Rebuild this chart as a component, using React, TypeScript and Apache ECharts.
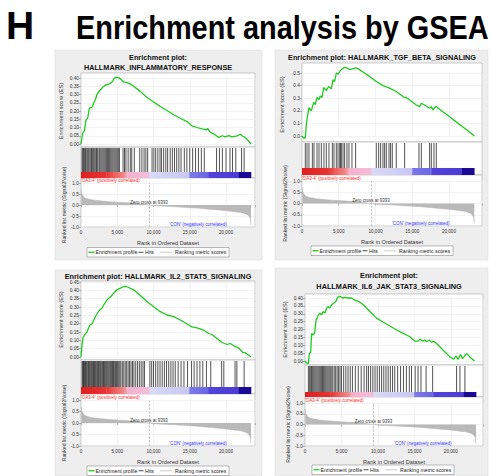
import React, { useEffect, useRef } from 'react';
import * as echarts from 'echarts';

const FONT = '"Liberation Sans", Arial, Helvetica, sans-serif';

// ---------- shared ranked list ----------
const ZERO_CROSS = 9393;
const metricRanks = [0, 50, 150, 300, 600, 1000, 1500, 2000, 3000, 4000, 5000, 6000, 7000, 8000, 9000, 9393, 10000, 11000, 12000, 13000, 14000, 15000, 16000, 17000, 18000, 19000, 20000, 21000, 22000, 22500, 23000, 23200, 23350, 23420, 23450];
const metricValues = [0.72, 0.6, 0.5, 0.4, 0.31, 0.27, 0.24, 0.21, 0.18, 0.15, 0.13, 0.11, 0.09, 0.06, 0.02, 0, -0.03, -0.05, -0.06, -0.08, -0.1, -0.12, -0.14, -0.17, -0.2, -0.23, -0.26, -0.3, -0.34, -0.38, -0.45, -0.52, -0.62, -0.8, -0.9];

const colorStopRanks = [0, 3500, 4500, 6000, 6400, 9400, 9500, 14900, 15000, 17500, 17600, 21700, 21750, 23450];
const colorStopColors = ['#e01e1e', '#e83434', '#ee5a5a', '#f08c8c', '#f5b0cc', '#f4bedb', '#d9d9f7', '#c9c6f3', '#7c7ae8', '#6a66e4', '#5244da', '#4a3cd4', '#1c0896', '#1c0896'];

const POS_LABEL = "'OA3-4' (positively correlated)";
const NEG_LABEL = "'CON' (negatively correlated)";
const ZERO_LABEL = 'Zero cross at 9393';

// ---------- panel 1: inflammatory response ----------
const title1 = ['Enrichment plot:', 'HALLMARK_INFLAMMATORY_RESPONSE'];
const es1Ranks = [0, 230, 460, 690, 920, 1150, 1380, 1600, 1750, 1980, 2200, 2570, 3030, 3500, 3800, 4140, 4370, 4600, 5060, 5420, 5900, 6250, 6710, 7260, 8180, 9100, 10020, 10940, 11860, 12780, 13700, 14620, 15310, 16000, 16690, 17290, 17470, 17840, 18530, 18990, 19450, 19910, 20370, 20830, 21520, 21980, 22210, 22670, 23450];
const es1Values = [0, 0.065, 0.08, 0.146, 0.156, 0.217, 0.22, 0.227, 0.248, 0.268, 0.3, 0.323, 0.345, 0.36, 0.363, 0.37, 0.38, 0.4, 0.404, 0.396, 0.376, 0.374, 0.366, 0.35, 0.319, 0.282, 0.254, 0.227, 0.203, 0.177, 0.156, 0.136, 0.11, 0.1, 0.091, 0.085, 0.095, 0.071, 0.055, 0.04, 0.05, 0.043, 0.051, 0.043, 0.049, 0.059, 0.05, 0.039, 0];
const hits1 = [150, 260, 380, 450, 600, 700, 850, 980, 1100, 1250, 1400, 1480, 1620, 1750, 1900, 2050, 2150, 2300, 2480, 2600, 2750, 2900, 3050, 3200, 3350, 3500, 3650, 3800, 3950, 4100, 4250, 4400, 4550, 4700, 4850, 5000, 5150, 5300, 5800, 6000, 6200, 6500, 6800, 7000, 7350, 8100, 8400, 8700, 8950, 9200, 9800, 10050, 10300, 10600, 10900, 11100, 11400, 11700, 11950, 12300, 12600, 12900, 13200, 13500, 13800, 14250, 14600, 15000, 15400, 15800, 16200, 16600, 17000, 18700, 19100, 19500, 20000, 20550, 20900, 21350, 22150, 22500];

// ---------- panel 2: TGF beta ----------
const title2 = ['Enrichment plot: HALLMARK_TGF_BETA_SIGNALING'];
const es2Ranks = [0, 230, 450, 590, 700, 950, 1270, 1590, 1810, 2040, 2310, 2490, 2720, 2950, 3310, 3630, 3990, 4220, 4450, 4670, 4900, 5220, 5490, 5800, 6120, 6490, 6850, 7300, 7620, 8300, 9210, 10110, 11020, 11930, 12830, 13740, 14200, 14650, 15560, 16010, 16240, 16690, 17370, 17600, 17820, 18050, 18280, 19180, 20090, 20990, 21900, 22810, 23450];
const es2Values = [0, -0.016, -0.016, 0.086, 0.14, 0.225, 0.2, 0.267, 0.25, 0.307, 0.29, 0.318, 0.305, 0.385, 0.36, 0.393, 0.374, 0.446, 0.433, 0.5, 0.49, 0.519, 0.535, 0.545, 0.54, 0.527, 0.532, 0.54, 0.535, 0.508, 0.473, 0.433, 0.4, 0.38, 0.353, 0.313, 0.305, 0.286, 0.246, 0.233, 0.26, 0.246, 0.22, 0.233, 0.206, 0.225, 0.233, 0.193, 0.152, 0.112, 0.072, 0.032, 0];
const hits2 = [450, 680, 950, 1410, 1630, 2040, 2310, 2630, 2990, 3310, 3670, 4130, 4350, 4670, 4900, 5130, 5260, 5350, 5580, 5800, 6120, 6390, 6800, 7300, 10110, 10430, 10700, 11020, 11250, 11470, 11840, 12060, 12290, 12830, 13970, 15920, 16240, 17370, 17600, 17960, 18280];

// ---------- panel 3: IL2 STAT5 ----------
const title3 = ['Enrichment plot: HALLMARK_IL2_STAT5_SIGNALING'];
const es3Ranks = [0, 140, 280, 460, 830, 1200, 1520, 1750, 2110, 2570, 2900, 3130, 3490, 3820, 4140, 4510, 4970, 5430, 5890, 6250, 6570, 7260, 8180, 9100, 10020, 10940, 11860, 12780, 13700, 14620, 15310, 16000, 16920, 17610, 18070, 18760, 19450, 20140, 20600, 21060, 21750, 22350, 22670, 23450];
const es3Values = [0, 0.07, 0.115, 0.131, 0.151, 0.19, 0.2, 0.22, 0.252, 0.282, 0.292, 0.312, 0.337, 0.353, 0.363, 0.383, 0.403, 0.413, 0.423, 0.423, 0.417, 0.403, 0.369, 0.333, 0.302, 0.272, 0.252, 0.242, 0.222, 0.198, 0.181, 0.175, 0.161, 0.141, 0.135, 0.111, 0.087, 0.075, 0.081, 0.067, 0.054, 0.026, 0.026, 0];
const hits3 = [150, 250, 350, 420, 520, 600, 720, 820, 950, 1050, 1150, 1280, 1400, 1500, 1620, 1720, 1850, 1950, 2050, 2180, 2300, 2400, 2520, 2650, 2750, 2880, 3000, 3100, 3230, 3350, 3480, 3600, 3720, 3850, 3980, 4100, 4230, 4350, 4480, 4600, 4750, 4900, 5050, 5200, 5350, 5500, 5700, 5900, 6100, 6300, 6500, 6700, 6900, 7100, 7300, 7550, 7800, 8050, 8300, 8550, 8750, 9500, 9750, 10000, 10300, 10600, 10900, 11200, 11500, 11800, 12100, 12400, 12700, 13000, 13400, 13800, 14200, 14700, 15250, 15600, 16000, 16400, 16800, 17300, 17900, 19400, 19700, 21250, 21500, 22500];

// ---------- panel 4: IL6 JAK STAT3 ----------
const title4 = ['Enrichment plot:', 'HALLMARK_IL6_JAK_STAT3_SIGNALING'];
const es4Ranks = [0, 230, 460, 590, 780, 910, 1140, 1330, 1510, 1650, 1830, 2050, 2280, 2510, 2740, 2970, 3190, 3420, 3650, 3970, 4240, 4470, 4790, 5160, 5480, 5940, 6390, 6710, 7310, 7990, 8900, 9820, 10730, 11640, 12560, 13470, 13930, 14380, 15070, 15520, 15750, 16110, 16440, 16660, 17030, 17350, 17580, 18040, 18950, 19860, 20410, 20680, 21000, 21320, 21590, 22150, 22600, 23240];
const es4Values = [0, -0.013, -0.017, 0.047, 0.058, 0.175, 0.165, 0.18, 0.26, 0.27, 0.293, 0.304, 0.293, 0.314, 0.304, 0.336, 0.347, 0.336, 0.357, 0.368, 0.379, 0.404, 0.411, 0.4, 0.404, 0.4, 0.4, 0.389, 0.379, 0.357, 0.314, 0.272, 0.246, 0.222, 0.197, 0.175, 0.165, 0.154, 0.126, 0.126, 0.139, 0.126, 0.133, 0.122, 0.133, 0.118, 0.126, 0.111, 0.068, 0.026, 0.011, 0.032, 0.011, 0.041, 0.015, 0.047, 0.026, 0];
const hits4 = [460, 600, 780, 900, 1050, 1200, 1350, 1500, 1650, 1800, 1950, 2100, 2250, 2400, 2550, 2700, 2850, 3000, 3150, 3300, 3450, 3600, 3800, 4000, 4200, 4400, 4600, 4800, 5000, 5300, 5600, 5900, 6200, 6500, 6900, 7300, 7700, 8100, 8450, 8700, 9000, 9300, 9600, 9900, 10200, 10500, 10800, 11100, 11400, 11700, 12000, 12300, 12700, 13100, 13500, 13900, 14300, 14600, 15100, 15500, 15900, 16600, 17500, 20780, 21240, 21920];

type Layout = {
  bg: number[]; titleX: number; titleYs: number[]; left: number; width: number; xMax: number;
  esFrame: number[]; esTopPx: number; esZeroPx: number; esMax: number; esInterval: number; esDigits: number;
  hitsTop: number; cbTop: number; cbBottom: number; m1: number; mm1: number; legendX: number; legendY: number;
};

const panels: { title: string[]; esR: number[]; esV: number[]; hits: number[]; L: Layout }[] = [
  {
    title: title1, esR: es1Ranks, esV: es1Values, hits: hits1,
    L: { bg: [55, 50, 207, 210], titleX: 158, titleYs: [57, 67], left: 81, width: 174, xMax: 24000,
      esFrame: [73, 147], esTopPx: 78, esZeroPx: 144, esMax: 0.4, esInterval: 0.05, esDigits: 2,
      hitsTop: 147, cbTop: 172, cbBottom: 178, m1: 183, mm1: 227, legendX: 87, legendY: 247.5 },
  },
  {
    title: title2, esR: es2Ranks, esV: es2Values, hits: hits2,
    L: { bg: [275, 50, 213, 210], titleX: 382, titleYs: [57], left: 302, width: 180, xMax: 24500,
      esFrame: [63, 142], esTopPx: 73, esZeroPx: 136, esMax: 0.5, esInterval: 0.1, esDigits: 1,
      hitsTop: 142, cbTop: 168, cbBottom: 175, m1: 181, mm1: 226, legendX: 311, legendY: 246 },
  },
  {
    title: title3, esR: es3Ranks, esV: es3Values, hits: hits3,
    L: { bg: [55, 270, 207, 206], titleX: 158, titleYs: [276], left: 81, width: 174, xMax: 24000,
      esFrame: [281, 360], esTopPx: 282, esZeroPx: 357, esMax: 0.45, esInterval: 0.05, esDigits: 2,
      hitsTop: 360, cbTop: 387, cbBottom: 394, m1: 400, mm1: 446, legendX: 87, legendY: 466 },
  },
  {
    title: title4, esR: es4Ranks, esV: es4Values, hits: hits4,
    L: { bg: [275, 268, 213, 208], titleX: 389, titleYs: [275, 286], left: 305, width: 178, xMax: 24400,
      esFrame: [294, 365], esTopPx: 298, esZeroPx: 361, esMax: 0.4, esInterval: 0.05, esDigits: 2,
      hitsTop: 365, cbTop: 392, cbBottom: 397, m1: 403, mm1: 446, legendX: 312, legendY: 465 },
  },
];

function legendEls(x: number, y: number) {
  const h = 9.5;
  const cy = y + h / 2;
  const ts = { fontSize: 5.2, fill: '#222', verticalAlign: 'middle', fontFamily: FONT };
  return [
    { type: 'rect', z: 5, shape: { x, y, width: 142, height: h }, style: { fill: '#fff', stroke: '#777', lineWidth: 0.5 } },
    { type: 'line', z: 6, shape: { x1: x + 1.5, y1: cy, x2: x + 7.5, y2: cy }, style: { stroke: '#22cc22', lineWidth: 1.3 } },
    { type: 'text', z: 6, x: x + 8.5, y: cy, style: { ...ts, text: 'Enrichment profile' } },
    { type: 'line', z: 6, shape: { x1: x + 51.5, y1: cy, x2: x + 56.5, y2: cy }, style: { stroke: '#222', lineWidth: 0.8 } },
    { type: 'text', z: 6, x: x + 58, y: cy, style: { ...ts, text: 'Hits' } },
    { type: 'line', z: 6, shape: { x1: x + 73, y1: cy, x2: x + 85, y2: cy }, style: { stroke: '#d4d4d4', lineWidth: 1.2 } },
    { type: 'text', z: 6, x: x + 88, y: cy, style: { ...ts, text: 'Ranking metric scores' } },
  ];
}

function buildOption() {
  const grid: any[] = [];
  const xAxis: any[] = [];
  const yAxis: any[] = [];
  const series: any[] = [];
  const graphic: any[] = [
    { type: 'text', x: 6, y: 25, z: 10, style: { text: 'H', fontSize: 39, fontWeight: 'bold', fill: '#000', verticalAlign: 'middle', fontFamily: FONT } },
    { type: 'text', x: 76, y: 27, scaleX: 0.85, z: 10, style: { text: 'Enrichment analysis by GSEA', fontSize: 34, fontWeight: 'bold', fill: '#000', verticalAlign: 'middle', fontFamily: FONT } },
  ];
  const gridLine = { show: true, lineStyle: { color: '#e9e9e9', width: 0.6 } };
  const tick = { show: true, length: 2, lineStyle: { color: '#777', width: 0.5 } };
  const lbl = { fontSize: 4.8, color: '#333', fontFamily: FONT };

  panels.forEach((p, i) => {
    const L = p.L;
    const gE = 3 * i, gH = 3 * i + 1, gM = 3 * i + 2;
    const cbFrac = (L.cbBottom - L.cbTop) / (L.cbBottom - L.hitsTop);

    // backgrounds & frames
    graphic.push({ type: 'rect', z: -20, shape: { x: L.bg[0], y: L.bg[1], width: L.bg[2], height: L.bg[3] }, style: { fill: '#eeeeee', stroke: '#dddddd', lineWidth: 0.6 } });
    graphic.push({ type: 'rect', z: -10, shape: { x: L.left, y: L.esFrame[0], width: L.width, height: L.esFrame[1] - L.esFrame[0] }, style: { fill: '#fff', stroke: '#9a9a9a', lineWidth: 0.5 } });
    graphic.push({ type: 'rect', z: -10, shape: { x: L.left, y: L.hitsTop, width: L.width, height: L.cbBottom - L.hitsTop }, style: { fill: '#fff', stroke: '#9a9a9a', lineWidth: 0.5 } });
    graphic.push({ type: 'rect', z: -10, shape: { x: L.left, y: L.cbBottom, width: L.width, height: L.mm1 - L.cbBottom }, style: { fill: '#fff', stroke: '#9a9a9a', lineWidth: 0.5 } });
    p.title.forEach((t, k) => {
      graphic.push({ type: 'text', z: 10, x: L.titleX, y: L.titleYs[k], style: { text: t, fontSize: 7.3, fontWeight: 'bold', fill: '#111', align: 'center', verticalAlign: 'middle', fontFamily: FONT } });
    });
    graphic.push(...legendEls(L.legendX, L.legendY));

    grid.push({ left: L.left, top: L.esTopPx, width: L.width, height: L.esZeroPx - L.esTopPx, containLabel: false, outerBoundsMode: 'none' });
    grid.push({ left: L.left, top: L.hitsTop, width: L.width, height: L.cbBottom - L.hitsTop, containLabel: false, outerBoundsMode: 'none' });
    grid.push({ left: L.left, top: L.m1, width: L.width, height: L.mm1 - L.m1, containLabel: false, outerBoundsMode: 'none' });

    const xBase = { type: 'value', min: 0, max: L.xMax, interval: 5000, axisLine: { show: false }, axisTick: { show: false }, axisLabel: { show: false }, splitLine: gridLine };
    xAxis.push({ ...xBase, gridIndex: gE });
    xAxis.push({ ...xBase, gridIndex: gH, splitLine: { show: false } });
    xAxis.push({
      ...xBase, gridIndex: gM, axisTick: tick,
      axisLabel: { ...lbl, fontSize: 4.6, show: true, margin: 3, formatter: (v: number) => (v % 5000 === 0 ? v.toLocaleString('en-US') : '') },
      name: 'Rank in Ordered Dataset', nameLocation: 'middle', nameGap: 12.5, nameMoveOverlap: false,
      nameTextStyle: { fontSize: 5.6, color: '#333', fontFamily: FONT },
    });

    yAxis.push({
      type: 'value', gridIndex: gE, min: 0, max: L.esMax, interval: L.esInterval,
      axisLine: { show: false }, axisTick: tick, splitLine: gridLine,
      axisLabel: { ...lbl, margin: 2, formatter: (v: number) => v.toFixed(L.esDigits) },
      name: 'Enrichment score (ES)', nameLocation: 'middle', nameGap: 17, nameMoveOverlap: false,
      nameTextStyle: { fontSize: 5.6, color: '#333', fontFamily: FONT },
    });
    yAxis.push({ type: 'value', gridIndex: gH, min: 0, max: 1, show: false });
    yAxis.push({
      type: 'value', gridIndex: gM, min: -1, max: 1, interval: 0.5,
      axisLine: { show: false }, axisTick: tick, splitLine: gridLine,
      axisLabel: { ...lbl, margin: 2, formatter: (v: number) => v.toFixed(1) },
      name: 'Ranked list metric (Signal2Noise)', nameLocation: 'middle', nameGap: 15, nameMoveOverlap: false,
      nameTextStyle: { fontSize: 5.2, color: '#333', fontFamily: FONT },
    });

    // ES curve
    series.push({
      type: 'line', xAxisIndex: gE, yAxisIndex: gE, data: p.esR.map((r, k) => [r, p.esV[k]]),
      showSymbol: false, symbol: 'none', clip: false, z: 4,
      lineStyle: { color: '#1fcb1f', width: 1.3 },
    });
    // hits
    series.push({
      type: 'custom', xAxisIndex: gH, yAxisIndex: gH, data: p.hits.map((r) => [r, 0.5]), z: 4, silent: true,
      renderItem: (_params: any, api: any) => {
        const x = api.coord([api.value(0), 0])[0];
        const y1 = api.coord([0, 0.97])[1];
        const y2 = api.coord([0, cbFrac])[1];
        return { type: 'line', shape: { x1: x, y1, x2: x, y2 }, style: { stroke: '#1a1a1a', lineWidth: 0.75 } };
      },
    });
    // colour bar
    series.push({
      type: 'custom', xAxisIndex: gH, yAxisIndex: gH, z: 4, silent: true,
      data: colorStopRanks.slice(0, -1).map((r, k) => [r, colorStopRanks[k + 1], 0.5]),
      encode: { x: [0, 1], y: 2 },
      renderItem: (params: any, api: any) => {
        const k = params.dataIndex;
        const p0 = api.coord([api.value(0), cbFrac]);
        const p1 = api.coord([api.value(1), 0]);
        return {
          type: 'rect',
          shape: { x: p0[0], y: p0[1], width: p1[0] - p0[0] + 0.3, height: p1[1] - p0[1] },
          style: { fill: new echarts.graphic.LinearGradient(0, 0, 1, 0, [{ offset: 0, color: colorStopColors[k] }, { offset: 1, color: colorStopColors[k + 1] }]) },
        };
      },
    });
    // ranked metric
    series.push({
      type: 'line', xAxisIndex: gM, yAxisIndex: gM, data: metricRanks.map((r, k) => [r, metricValues[k]]),
      showSymbol: false, symbol: 'none', z: 3,
      lineStyle: { color: '#b4b4b4', width: 0.5 }, areaStyle: { color: '#b9b9b9', opacity: 1 },
      markLine: {
        silent: true, symbol: ['none', 'none'], label: { show: false },
        lineStyle: { type: 'dashed', color: '#a0a0a0', width: 0.6 }, data: [{ xAxis: ZERO_CROSS }],
      },
    });
    // notes in metric plot
    const notes = [
      { text: POS_LABEL, color: '#ff2a2a', align: 'left' },
      { text: ZERO_LABEL, color: '#333', align: 'center' },
      { text: NEG_LABEL, color: '#2a2aff', align: 'center' },
    ];
    series.push({
      type: 'custom', xAxisIndex: gM, yAxisIndex: gM, z: 6, silent: true, clip: false,
      data: [[0, 1.12], [ZERO_CROSS, 0.12], [16150, -0.88]],
      renderItem: (params: any, api: any) => {
        const pt = api.coord([api.value(0), api.value(1)]);
        const n = notes[params.dataIndex];
        return { type: 'text', x: pt[0], y: pt[1], style: { text: n.text, fill: n.color, fontSize: 4.5, align: n.align, verticalAlign: 'middle', fontFamily: FONT } };
      },
    });
  });

  return { animation: false, backgroundColor: '#ffffff', textStyle: { fontFamily: FONT }, grid, xAxis, yAxis, series, graphic: { elements: graphic } };
}

export default function App() {
  const ref = useRef<HTMLDivElement>(null);
  useEffect(() => {
    if (!ref.current) return;
    const chart = echarts.init(ref.current, undefined, { renderer: 'svg' });
    chart.setOption(buildOption() as any);
    return () => chart.dispose();
  }, []);
  return <div ref={ref} style={{ position: 'absolute', left: 0, top: 0, width: 490, height: 476 }} />;
}
